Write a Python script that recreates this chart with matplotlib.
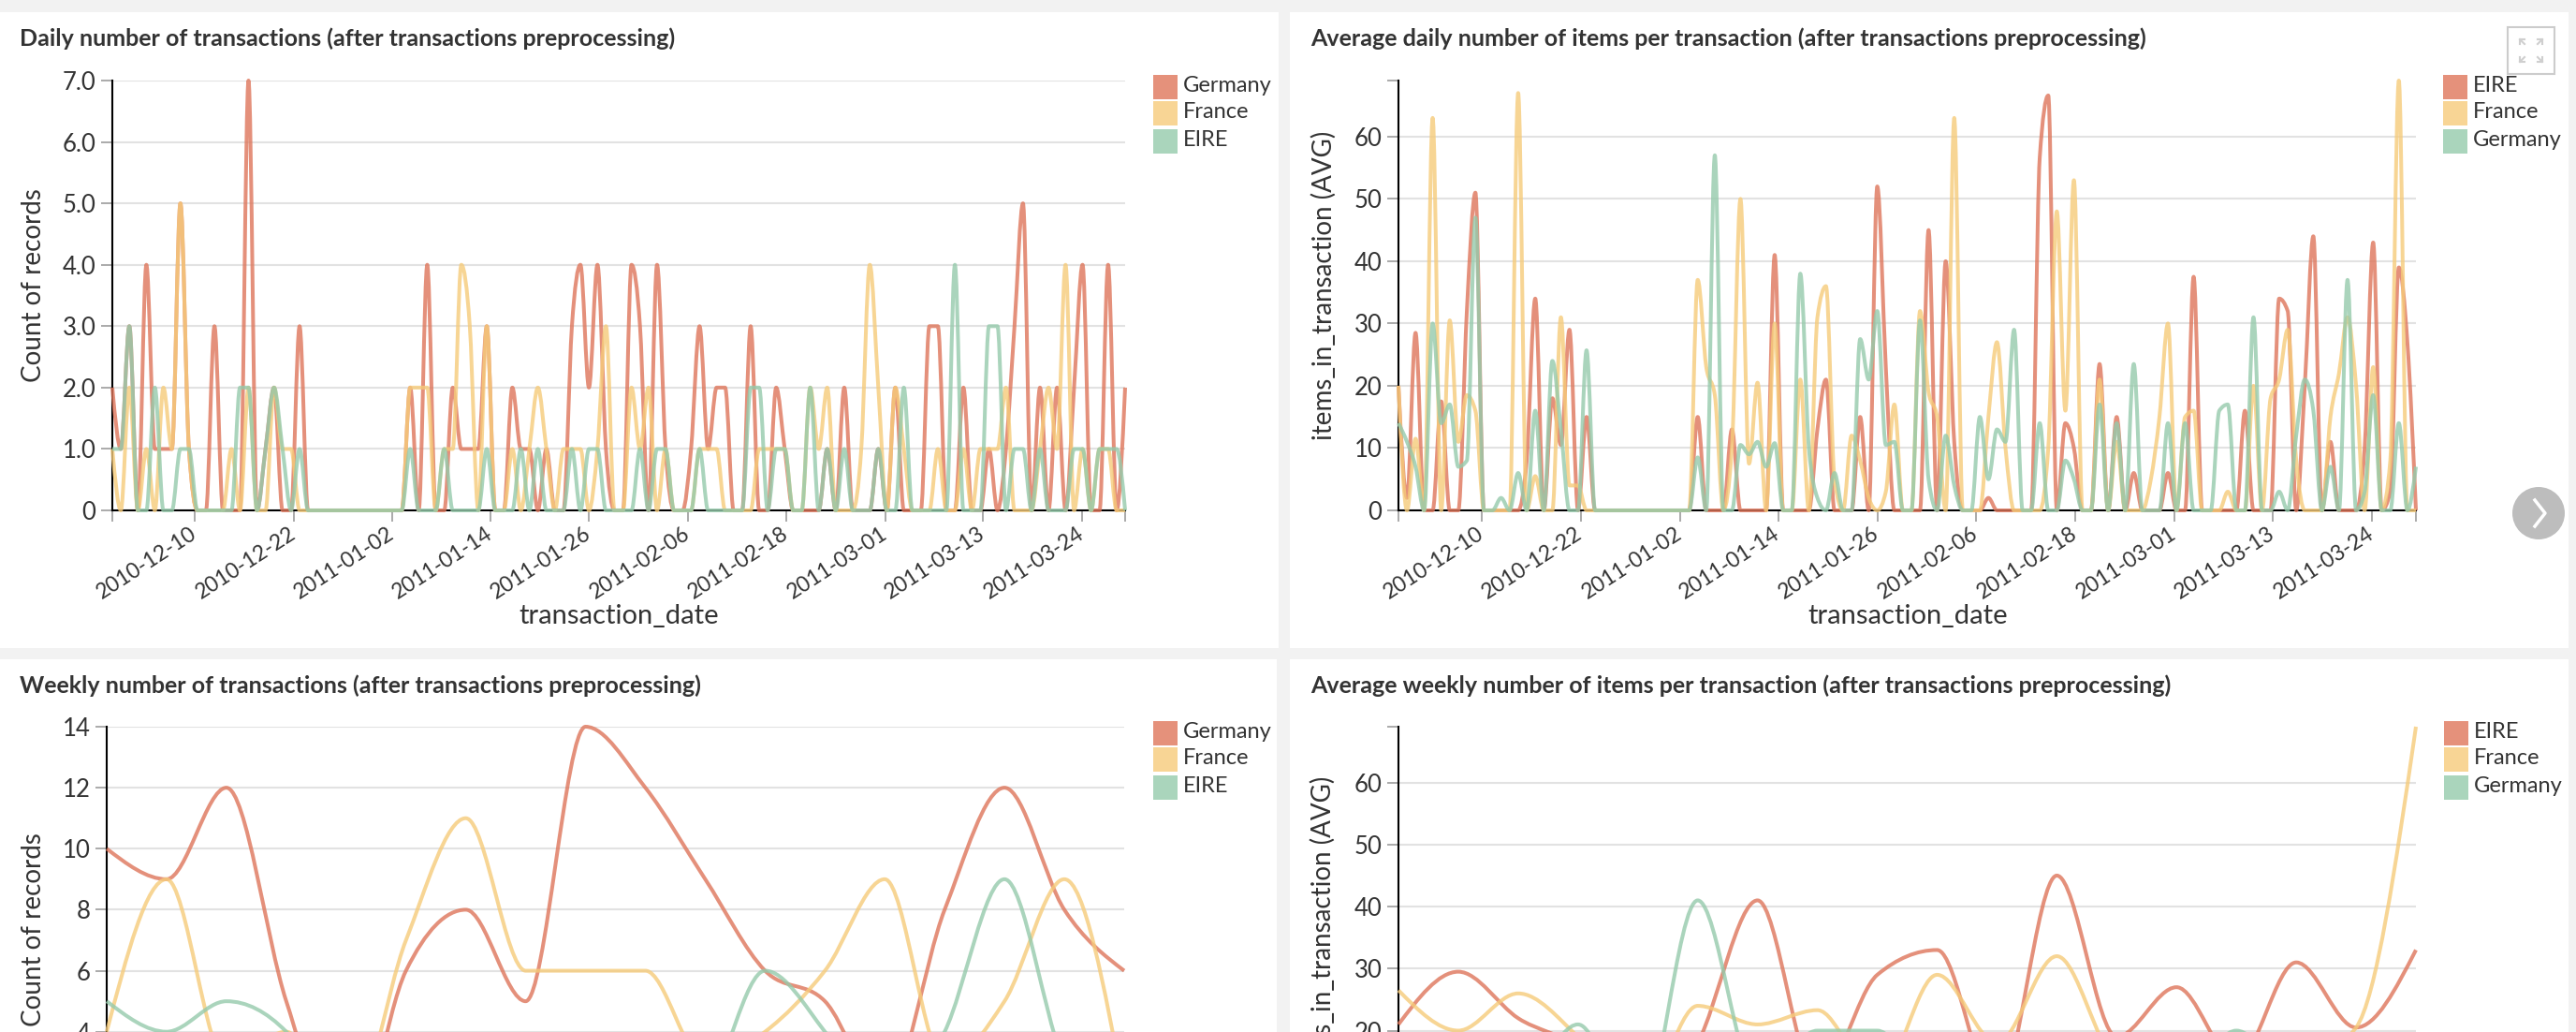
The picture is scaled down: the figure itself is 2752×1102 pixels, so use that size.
import matplotlib
matplotlib.use("Agg")
import matplotlib.pyplot as plt
import numpy as np
from matplotlib.path import Path
from matplotlib.patches import PathPatch, Rectangle, Circle

W, H = 2752, 1102
plt.rcParams["font.family"] = ["Lato", "DejaVu Sans"]

# couleurs
RED = "#de755a"
YELLOW = "#f6cb7a"
GREEN = "#95caab"
LEG_COLORS = ["#e5917b", "#f8d595", "#aad5bc"]
TXT = "#333333"

# Daily number of transactions
daily_germany = [2,1,3,0,4,1,1,1,5,1, 0,0,3,0,0,0,7,0,1,2, 0,0,3,0,0,0,0,0,0,0,
                 0,0,0,0,0,2,0,4,0,0, 2,1,1,1,3,0,0,2,1,1, 0,1,0,0,3,4,2,4,1,0,
                 0,4,3,0,4,1,0,0,1,3, 1,2,2,0,0,3,0,0,2,1, 0,0,0,0,1,0,2,0,0,0,
                 1,0,2,0,0,0,3,3,0,0, 2,0,0,1,0,1,3,5,0,2, 0,2,0,2,4,0,0,4,0,2]
daily_france = [1,0,2,0,1,0,2,1,5,1, 0,0,0,0,1,0,2,0,0,2, 1,1,0,0,0,0,0,0,0,0,
                0,0,0,0,0,2,2,2,0,1, 1,4,3,0,3,0,0,1,0,1, 2,1,0,1,1,1,0,1,3,0,
                0,2,1,2,0,1,0,0,0,1, 1,1,0,0,0,0,1,1,1,1, 0,0,2,1,2,0,0,0,1,4,
                2,0,2,1,0,0,0,1,0,0, 1,0,1,1,1,2,0,0,0,1, 2,1,4,0,1,0,1,1,0,0]
daily_eire = [1,1,3,0,0,2,0,0,1,1, 0,0,0,0,0,2,2,0,1,2, 1,0,1,0,0,0,0,0,0,0,
              0,0,0,0,0,1,0,0,0,1, 0,0,0,0,1,0,0,0,1,0, 1,0,0,0,1,0,1,1,0,0,
              0,0,1,0,1,1,0,0,0,1, 0,0,0,0,0,2,2,0,1,1, 0,0,2,0,1,0,1,0,0,0,
              1,0,0,2,0,0,0,0,0,4, 0,0,0,3,3,0,1,1,0,1, 0,0,0,1,1,0,1,1,1,0]

# Average daily number of items per transaction
items_eire = [20,2,28.5,0,0,17.5,0,0,32,51, 0,0,0,0,0,8,34,0,18,10.5, 29,0,15,0,0,0,0,0,0,0,
              0,0,0,0,0,15,0,0,0,13, 0,0,0,0,41,0,0,0,0,13, 21,0,0,0,15,0,52,23,0,0,
              0,0,45,0,40,11,0,0,0,2, 0,0,0,0,0,56.6,66.6,0,14,10, 0,0,23.5,0,15,0,6,0,0,0,
              6,0,0,37.5,0,0,0,0,0,16, 0,0,0,34,32,0,20,44,0,11, 0,0,0,10,43,0,3,39,27,0]
items_france = [20,0,11.5,0,63,0,30.5,11,18.5,16, 0,0,0,0,67,0,5.5,0,0,31, 4,4,0,0,0,0,0,0,0,0,
                0,0,0,0,0,37,23,18.5,0,10, 50,7.5,20.5,0,30,0,0,21,0,31, 36,5,0,12,8,2,0,3,17,0,
                0,32,19,15,0,63,0,0,0,15, 27,10,0,0,0,0,10,48,16,53, 0,0,21,0,11,0,0,0,5,15,
                30,0,15,16,0,0,0,3,0,0, 20,0,18,21,29,8,0,0,0,15, 22,31,20,0,23,0,8,69,0,0]
items_germany = [14,11,7,0,30,14,17,7,8,47, 0,0,2,0,6,0,16,0,24,13, 0,0,25.7,0,0,0,0,0,0,0,
                 0,0,0,0,0,8.5,0,57,0,0, 10.5,9,11,7,10.8,0,0,38,10,2, 0,6,0,0,27.5,21,32,10.5,11,0,
                 0,30.5,5,0,12,4,0,0,15,5, 13,11,29,0,0,14,0,0,8,5, 0,0,17,0,14,0,23.5,0,0,0,
                 14,0,14,0,0,0,16,17,0,0, 31,0,0,3,0,12,21,16,0,7, 0,37,0,3,18.5,0,0,14,0,7]

# Weekly (le bas est coupé sur l'image, valeurs < 4 estimées)
weekly_germany = [10,9,12,5,0,6,8,5,14,12,9,6,5,2,8,12,8,6]
weekly_france = [4,9,3,4,1,7,11,6,6,6,3,4,6,9,3,5,9,2]
weekly_eire = [5,4,5,4,1,1,2,1,2,1,2,6,4,1,4,9,3,1]

weekly_items_eire = [21,29.5,22,17,5,18,41,12,29,33,10,45,19,27,15,31,20.5,33]
weekly_items_france = [26.5,20,26,19,8,24,21,23.3,12,29,18,32,15,12,10,14,20.5,69]
weekly_items_germany = [10,8,10,21,5,41,12,20,20,8,5,10,8,10,20,10,5,3]

tick_days = [9.7, 21.3, 32.9, 44.4, 56.0, 67.6, 79.2, 90.8, 102.3, 113.9]
tick_dates = ["2010-12-10", "2010-12-22", "2011-01-02", "2011-01-14", "2011-01-26",
              "2011-02-06", "2011-02-18", "2011-03-01", "2011-03-13", "2011-03-24"]


def monotone_path(y):
    # courbe monotone (meme forme que d3 curveMonotoneX), x espacés de 1
    y = np.asarray(y, dtype=float)
    s = np.diff(y)
    t = np.zeros(len(y))
    for i in range(1, len(y) - 1):
        t[i] = (np.sign(s[i-1]) + np.sign(s[i])) * min(abs(s[i-1]), abs(s[i]), 0.25 * abs(s[i-1] + s[i]))
    t[0] = (3 * s[0] - t[1]) / 2
    t[-1] = (3 * s[-1] - t[-2]) / 2
    verts = [(0, y[0])]
    codes = [Path.MOVETO]
    for i in range(len(y) - 1):
        verts += [(i + 1/3, y[i] + t[i] / 3), (i + 2/3, y[i+1] - t[i+1] / 3), (i + 1, y[i+1])]
        codes += [Path.CURVE4] * 3
    return Path(verts, codes)


def make_axes(left, right, top, bottom):
    return fig.add_axes([left / W, 1 - bottom / H, (right - left) / W, (bottom - top) / H])


def draw_chart(ax, series, ylim, yticks, ylabels, xmax, xticks=None, xlabels=None):
    ax.set_xlim(0, xmax)
    ax.set_ylim(*ylim)
    for v in yticks:
        ax.axhline(v, color="#e2e2e2", lw=1.5, zorder=1)
    for s, c in zip(series, [RED, YELLOW, GREEN]):
        ax.add_patch(PathPatch(monotone_path(s), fill=False, edgecolor=c, lw=2.9, alpha=0.8,
                               zorder=4, clip_on=False, capstyle="butt", joinstyle="round"))
    for name in ["top", "right"]:
        ax.spines[name].set_visible(False)
    ax.spines["left"].set_linewidth(1.5)
    ax.spines["bottom"].set_linewidth(1.5)
    ax.spines["left"].set_zorder(2)
    ax.spines["bottom"].set_zorder(2)

    # dernier tick y = haut du domaine, en noir
    all_y = list(yticks) + [ylim[1]] if ylim[1] not in yticks else list(yticks)
    ax.set_yticks(all_y)
    ax.set_yticklabels(list(ylabels) + [""] * (len(all_y) - len(ylabels)))
    ax.tick_params(axis="y", length=8.6, width=1.4, color="#aaaaaa", labelsize=18.5,
                   labelcolor=TXT, pad=4)
    for t, v in zip(ax.yaxis.get_major_ticks(), all_y):
        if v == ylim[1] or v == 0:
            t.tick1line.set_color("black")

    if xticks is not None:
        ax.set_xticks([0] + xticks + [xmax])
        ax.set_xticklabels([""] + xlabels + [""], rotation=33, ha="right", va="center",
                           rotation_mode="anchor")
        ax.tick_params(axis="x", length=8.6, width=1.4, color="#aaaaaa", labelsize=16.5,
                       labelcolor=TXT, pad=8)
        ticks = ax.xaxis.get_major_ticks()
        ticks[0].tick1line.set_color("black")
        ticks[-1].tick1line.set_color("black")
    else:
        ax.set_xticks([])


fig = plt.figure(figsize=(W / 100, H / 100), dpi=100, facecolor="#f2f2f2")
bg = fig.add_axes([0, 0, 1, 1])
bg.set_xlim(0, W)
bg.set_ylim(H, 0)
bg.axis("off")

for x0, y0, x1, y1 in [(0, 13, 1366, 692), (1378, 13, 2744, 692), (0, 704, 1364, 1102), (1378, 704, 2744, 1102)]:
    bg.add_patch(Rectangle((x0, y0), x1 - x0, y1 - y0, facecolor="white", edgecolor="none"))

# Axes
ax1 = make_axes(120, 1202, 86, 545)
draw_chart(ax1, [daily_germany, daily_france, daily_eire], (0, 7), [0, 1, 2, 3, 4, 5, 6, 7],
           ["0", "1.0", "2.0", "3.0", "4.0", "5.0", "6.0", "7.0"], 119, tick_days, tick_dates)
ax2 = make_axes(1494, 2581, 86, 545)
draw_chart(ax2, [items_eire, items_france, items_germany], (0, 69), [0, 10, 20, 30, 40, 50, 60],
           ["0", "10", "20", "30", "40", "50", "60"], 119, tick_days, tick_dates)
ax3 = make_axes(114, 1201, 776, 1232)
draw_chart(ax3, [weekly_germany, weekly_france, weekly_eire], (0, 14), [4, 6, 8, 10, 12, 14],
           ["4", "6", "8", "10", "12", "14"], 17)
ax4 = make_axes(1494, 2581, 776, 1233)
draw_chart(ax4, [weekly_items_eire, weekly_items_france, weekly_items_germany], (0, 69), [20, 30, 40, 50, 60],
           ["20", "30", "40", "50", "60"], 17)

# Titres
titles = [(21, 41, "Daily number of transactions (after transactions preprocessing)"),
          (1400, 41, "Average daily number of items per transaction (after transactions preprocessing)"),
          (21, 732, "Weekly number of transactions (after transactions preprocessing)"),
          (1400, 732, "Average weekly number of items per transaction (after transactions preprocessing)")]
for x, y, s in titles:
    bg.text(x, y, s, fontsize=18, fontweight="bold", color=TXT, va="center", ha="left")

# Labels d'axes
for x, y, s in [(36, 305, "Count of records"), (1414, 305, "items_in_transaction (AVG)"),
                (36, 993, "Count of records"), (1413, 994, "items_in_transaction (AVG)")]:
    bg.text(x, y, s, fontsize=20, color=TXT, rotation=90, va="center", ha="center")
for x, s in [(661, "transaction_date"), (2038, "transaction_date")]:
    bg.text(x, 658, s, fontsize=21, color=TXT, va="center", ha="center")

# Légendes
leg1 = ["Germany", "France", "EIRE"]
leg2 = ["EIRE", "France", "Germany"]
for x, top, names in [(1232, 80, leg1), (2610, 80, leg2), (1232, 770, leg1), (2611, 770, leg2)]:
    for k, name in enumerate(names):
        y = top + [0, 28, 58][k]
        bg.add_patch(Rectangle((x, y), 26, 26, facecolor=LEG_COLORS[k], edgecolor="none"))
        bg.text(x + 32, y + 12, name, fontsize=17, color=TXT, va="center", ha="left")

# bouton plein écran + flèche
bg.add_patch(Rectangle((2679, 29), 50, 50, facecolor="white", edgecolor="#cccccc", lw=1.5, zorder=5))
for sx, sy in [(-1, -1), (1, -1), (-1, 1), (1, 1)]:
    cx, cy = 2704 + sx * 7, 54 + sy * 7
    bg.plot([cx, cx + sx * 5], [cy, cy + sy * 5], color="#cfcfcf", lw=1.5, zorder=6)
    bg.plot([cx + sx * 5, cx + sx * 5, cx], [cy, cy + sy * 5, cy + sy * 5], color="#cfcfcf", lw=1.5, zorder=6)
bg.add_patch(Circle((2712, 548), 28, facecolor="#bdbdbd", edgecolor="none", zorder=5))
bg.plot([2708, 2719, 2708], [534, 548, 562], color="white", lw=2.5, zorder=6)

fig.savefig("out.png", dpi=100, facecolor=fig.get_facecolor())
